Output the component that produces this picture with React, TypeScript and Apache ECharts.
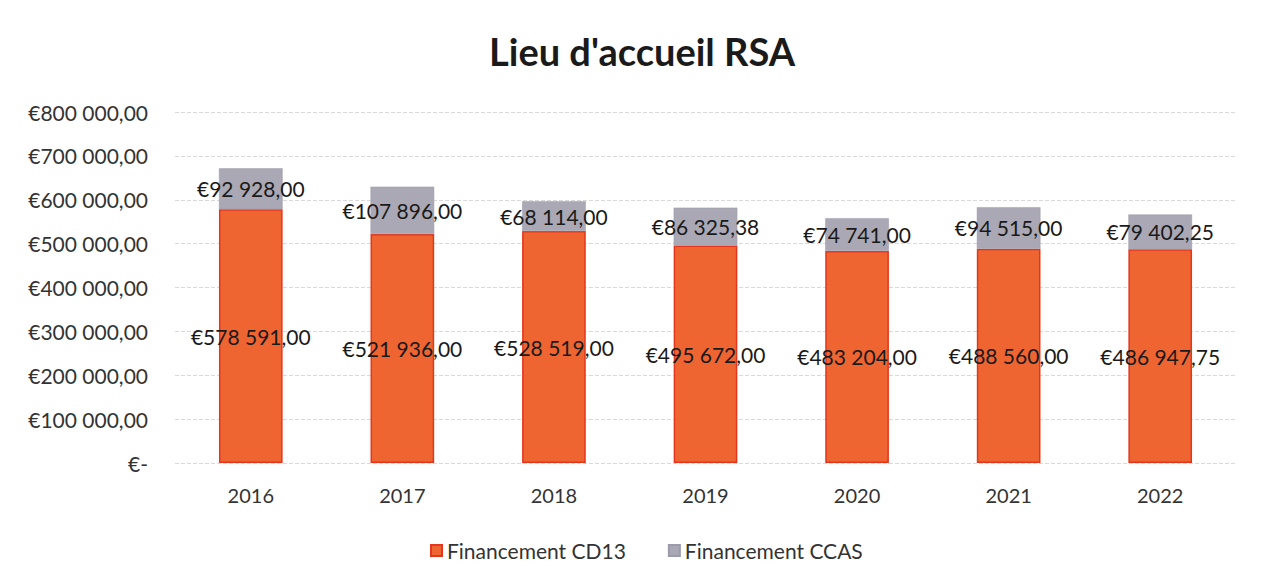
import React, { useEffect, useRef } from "react";
import * as echarts from "echarts";

const categories = ["2016", "2017", "2018", "2019", "2020", "2021", "2022"];
const cd13Values = [578591.0, 521936.0, 528519.0, 495672.0, 483204.0, 488560.0, 486947.75];
const ccasValues = [92928.0, 107896.0, 68114.0, 86325.38, 74741.0, 94515.0, 79402.25];
const seriesNames = ["Financement CD13", "Financement CCAS"];
const titleText = "Lieu d'accueil RSA";

const FONT = "Lato, 'Open Sans', sans-serif";

function fmtEuro(v: number): string {
  if (v === 0) return "€-";
  const fixed = v.toFixed(2);
  const [intPart, dec] = fixed.split(".");
  const withSpaces = intPart.replace(/\B(?=(\d{3})+(?!\d))/g, " ");
  return "€" + withSpaces + "," + dec;
}

export default function App() {
  const ref = useRef<HTMLDivElement>(null);
  useEffect(() => {
    if (!ref.current) return;
    const chart = echarts.init(ref.current, null, { renderer: "svg" });
    chart.setOption({
      animation: false,
      backgroundColor: "#ffffff",
      title: {
        text: titleText,
        left: 476,
        top: 19,
        textStyle: { fontFamily: FONT, fontSize: 38, fontWeight: "bold", color: "#1a1a1a" },
      },
      legend: {
        top: 527,
        left: 417,
        icon: "rect",
        itemWidth: 11,
        itemHeight: 11,
        itemGap: 42,
        textStyle: { fontFamily: FONT, fontSize: 21, color: "#333" },
        data: seriesNames,
      },
      grid: { left: 167, right: 20, top: 104, bottom: 108, containLabel: false },
      xAxis: {
        type: "category",
        data: categories,
        axisLine: { show: false },
        axisTick: { show: false },
        axisLabel: { fontFamily: FONT, fontSize: 20, color: "#333", margin: 22 },
      },
      yAxis: {
        type: "value",
        min: 0,
        max: 800000,
        interval: 100000,
        axisLine: { show: false },
        axisTick: { show: false },
        axisLabel: {
          fontFamily: FONT,
          fontSize: 21,
          color: "#333",
          margin: 27,
          formatter: (v: number) => fmtEuro(v),
        },
        splitLine: { lineStyle: { color: "#d9d9d9", type: "dashed", width: 1 } },
      },
      series: [
        {
          name: seriesNames[0],
          type: "bar",
          stack: "total",
          barWidth: "42%",
          data: cd13Values,
          itemStyle: { color: "#EE6532", borderColor: "#E3361C", borderWidth: 1.5 },
          label: {
            show: true,
            position: "inside",
            fontFamily: FONT,
            fontSize: 21,
            color: "#1a1a1a",
            formatter: (p: any) => fmtEuro(p.value),
          },
        },
        {
          name: seriesNames[1],
          type: "bar",
          stack: "total",
          barWidth: "42%",
          data: ccasValues,
          itemStyle: { color: "#A9A8B4", borderColor: "#9c9bab", borderWidth: 0.5 },
          label: {
            show: true,
            position: "inside",
            fontFamily: FONT,
            fontSize: 21,
            color: "#1a1a1a",
            formatter: (p: any) => fmtEuro(p.value),
          },
        },
      ],
    });
    return () => chart.dispose();
  }, []);
  return <div ref={ref} style={{ width: 1248, height: 563 }} />;
}
